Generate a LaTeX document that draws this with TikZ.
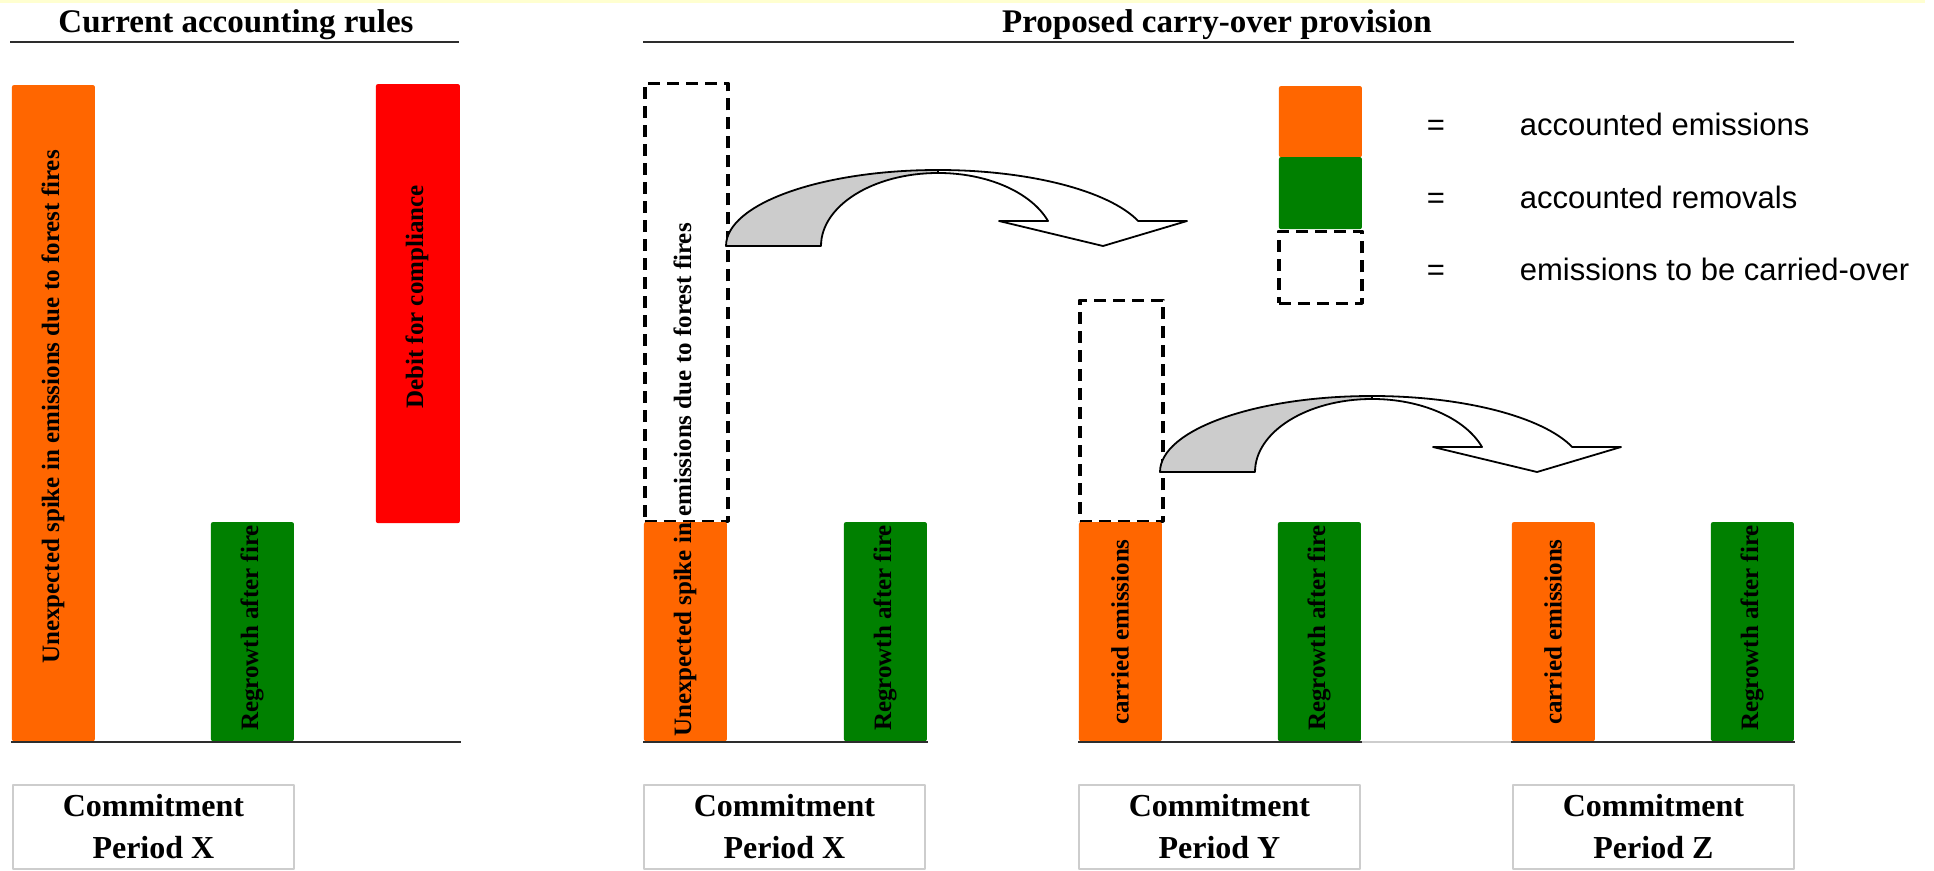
\documentclass[tikz,border=0pt]{standalone}
\usepackage{fontspec}
\setmainfont{Liberation Serif}
\newfontfamily\keyfont{Liberation Sans}
\usepackage{xcolor}
\definecolor{emitorange}{RGB}{255,102,0}
\definecolor{removegreen}{RGB}{0,128,0}
\definecolor{debitred}{RGB}{255,0,0}
\definecolor{backgray}{RGB}{204,204,204}
\definecolor{framegray}{RGB}{205,205,205}
\definecolor{ruledark}{RGB}{45,45,45}
\definecolor{topyellow}{RGB}{255,255,208}

% curved carry-over arrow, origin at the lower left end of its tail
\newcommand{\carryarrow}[1]{%
  \begin{scope}[shift={#1},y=1pt]
    \filldraw[fill=backgray] (0,0) arc[start angle=180,end angle=90,x radius=212,y radius=76]
      -- ++(0,-3) arc[start angle=90,end angle=180,x radius=117,y radius=73] -- cycle;
    \filldraw[fill=white] (212,76) arc[start angle=90,end angle=19.2,x radius=212,y radius=76]
      -- (461,25) -- (377,0) -- (273,25) -- (322,25)
      arc[start angle=20,end angle=90,x radius=117,y radius=73] -- cycle;
  \end{scope}}

\tikzset{
  heading/.style={anchor=base,inner sep=0pt,font=\fontsize{33}{35}\selectfont\bfseries},
  rule/.style={line width=2pt,draw=ruledark,line cap=butt},
  axis/.style={line width=2.5pt,draw=ruledark,line cap=butt},
  bar/.style={anchor=south west,inner sep=0pt,minimum width=83pt,rounded corners=2pt},
  barlabel/.style={rotate=90,inner sep=0pt,font=\fontsize{25}{27}\selectfont\bfseries},
  carrybox/.style={draw,anchor=south west,inner sep=0pt,minimum width=83pt,
    line width=3.5pt,line cap=butt,dash pattern=on 12pt off 7pt},
  periodbox/.style={draw=framegray,anchor=north west,inner sep=0pt,align=center,
    minimum width=281pt,minimum height=84pt,font=\fontsize{32}{42}\selectfont\bfseries},
  keytext/.style={anchor=base west,inner sep=0pt,font=\keyfont\fontsize{31}{34}\selectfont},
  keyeq/.style={anchor=base,inner sep=0pt,font=\keyfont\fontsize{31}{34}\selectfont}
}

\begin{document}
\begin{tikzpicture}[x=1pt,y=-1pt,line width=1.8pt,line cap=round,line join=round]
  \path[use as bounding box] (0,0) rectangle (1934,870);
  \fill[topyellow] (0,0) rectangle (1925,3);

  \node[heading] (curtitle) at (236,32) {Current accounting rules};
  \node[heading] (proptitle) at (1217,32) {Proposed carry-over provision};
  \draw[rule] (10,42) -- (459,42);
  \draw[rule] (643,42) -- (1794,42);

  % current accounting rules
  \node[bar,fill=emitorange,minimum height=656pt] (cur-emit) at (11,742) {};
  \node[bar,fill=removegreen,minimum height=219pt] (cur-regrow) at (210,742) {};
  \node[bar,fill=debitred,minimum width=84pt,minimum height=439pt] (cur-debit) at (375,524) {};
  \node[barlabel] (cur-emit-txt) at (53,407) {Unexpected spike in emissions due to forest fires};
  \node[barlabel] (cur-regrow-txt) at (252,628) {Regrowth after fire};
  \node[barlabel] (cur-debit-txt) at (417,297) {Debit for compliance};
  \draw[axis] (cur-emit.south west) -- (cur-regrow.south -| cur-debit.east);
  \node[periodbox] (cur-period) at (12,784) {Commitment\\Period X};

  % proposed carry-over provision
  \node[carrybox,minimum height=438pt] (carry-x) at (643,523) {};
  \node[bar,fill=emitorange,minimum height=219pt] (px-emit) at (643,742) {};
  \node[bar,fill=removegreen,minimum height=219pt] (px-regrow) at (843,742) {};
  \node[barlabel] (px-emit-txt) at (685,480) {Unexpected spike in emissions due to forest fires};
  \node[barlabel] (px-regrow-txt) at (885,628) {Regrowth after fire};

  \node[carrybox,minimum height=221pt] (carry-y) at (1078,523) {};
  \node[bar,fill=emitorange,minimum height=219pt] (py-emit) at (1078,742) {};
  \node[bar,fill=removegreen,minimum height=219pt] (py-regrow) at (1277,742) {};
  \node[barlabel] (py-emit-txt) at (1120,632) {carried emissions};
  \node[barlabel] (py-regrow-txt) at (1319,628) {Regrowth after fire};

  \node[bar,fill=emitorange,minimum height=219pt] (pz-emit) at (1511,742) {};
  \node[bar,fill=removegreen,minimum height=219pt] (pz-regrow) at (1710,742) {};
  \node[barlabel] (pz-emit-txt) at (1553,632) {carried emissions};
  \node[barlabel] (pz-regrow-txt) at (1752,628) {Regrowth after fire};

  \draw[axis] (px-emit.south west) -- (px-regrow.south east);
  \draw[axis] (py-emit.south west) -- (py-regrow.south east);
  \draw[axis,draw=framegray] (py-regrow.south east) -- (pz-emit.south west);
  \draw[axis] (pz-emit.south west) -- (pz-regrow.south east);

  \node[periodbox] (px-period) at (643,784) {Commitment\\Period X};
  \node[periodbox] (py-period) at (1078,784) {Commitment\\Period Y};
  \node[periodbox] (pz-period) at (1512,784) {Commitment\\Period Z};

  \carryarrow{(726,246)}
  \carryarrow{(1160,472)}

  % key
  \node[bar,fill=emitorange,minimum height=71pt] (key-emit) at (1278,158) {};
  \node[bar,fill=removegreen,minimum height=72pt] (key-remove) at (1278,230) {};
  \node[carrybox,minimum height=72pt] (key-carry) at (1277,305) {};
  \node[keyeq] (key-eq1) at (1436,135) {=};
  \node[keyeq] (key-eq2) at (1436,208) {=};
  \node[keyeq] (key-eq3) at (1436,280) {=};
  \node[keytext] (key-txt1) at (1519,135) {accounted emissions};
  \node[keytext] (key-txt2) at (1519,208) {accounted removals};
  \node[keytext] (key-txt3) at (1519,280) {emissions to be carried-over};
\end{tikzpicture}
\end{document}
